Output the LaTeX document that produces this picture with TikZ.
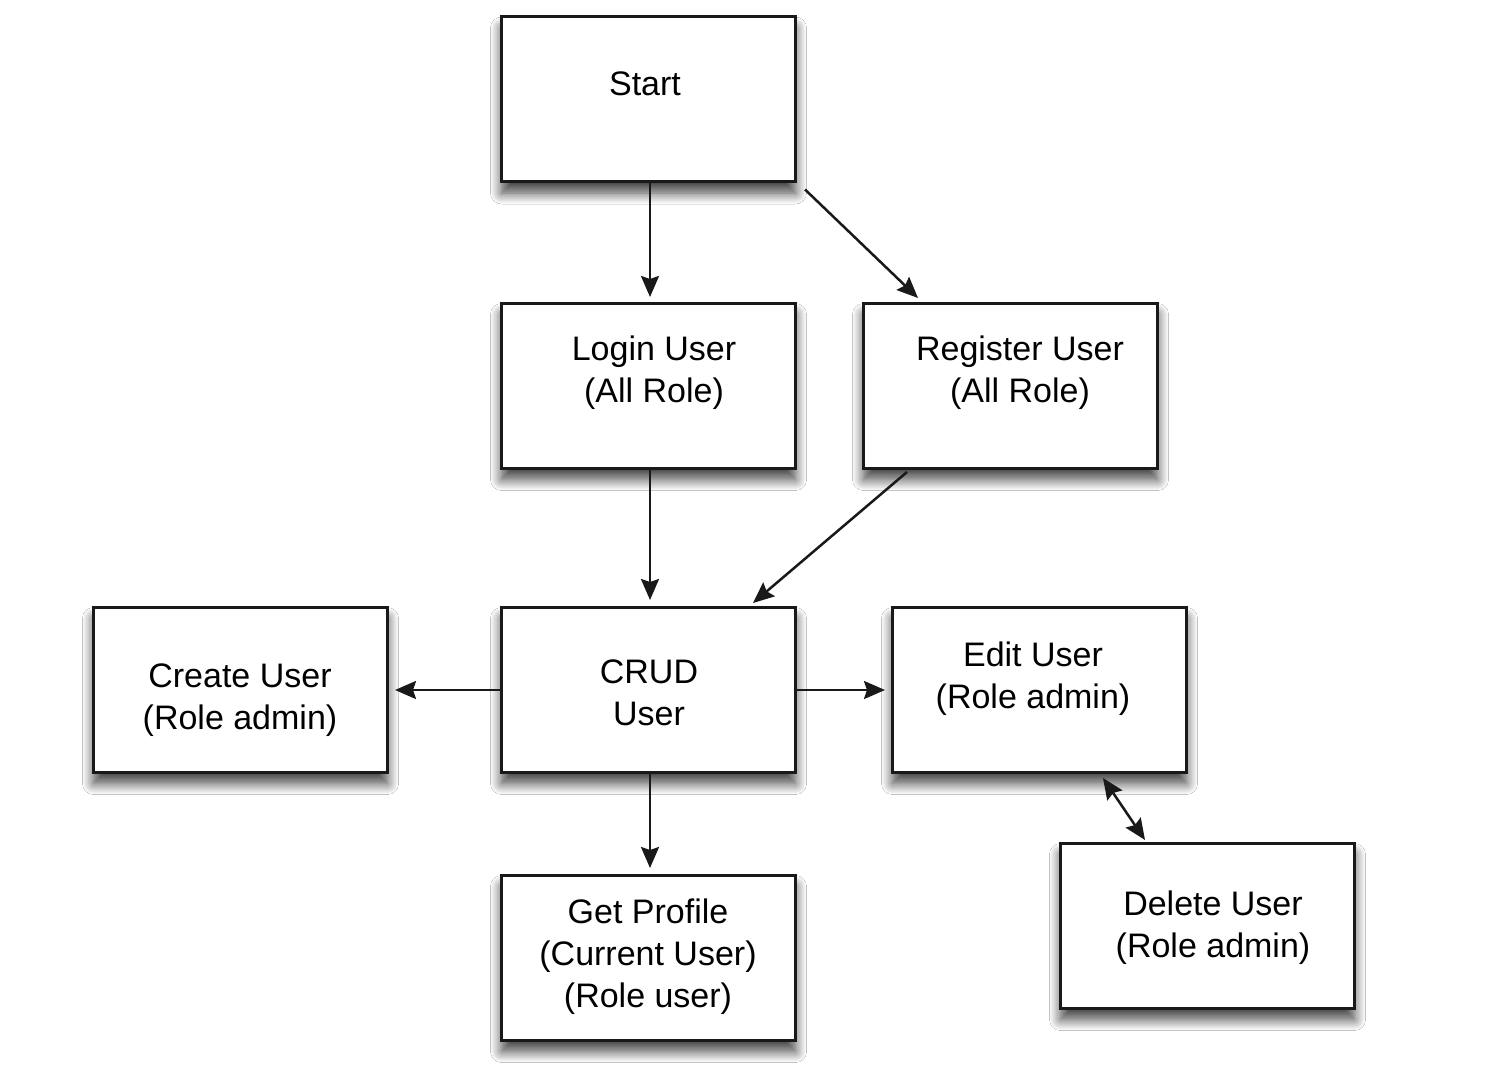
\documentclass[tikz,border=0pt]{standalone}
\usepackage{fontspec}
\setmainfont{Liberation Sans}
\usetikzlibrary{arrows.meta,calc,shadows.blur}
\tikzset{
  box/.style={draw=black!90, line width=3pt, fill=white, minimum width=294pt, minimum height=165pt, inner sep=0pt,
    blur shadow={shadow xshift=0pt, shadow yshift=-11pt, shadow blur radius=11pt, shadow blur steps=12, shadow opacity=75}},
  lbl/.style={align=center, font=\fontsize{34}{42}\selectfont, inner sep=0pt},
  tip/.tip={Stealth[length=21pt,width=18pt,inset=3pt]},
  conn/.style={line width=2.5pt, draw=black!90, -tip},
  conn2/.style={line width=2.5pt, draw=black!90, tip-tip}
}
\begin{document}
\begin{tikzpicture}[x=1pt,y=-1pt]
\useasboundingbox[fill=white] (0,0) rectangle (1496,1086);
% boxes
\node[box] (start) at (648.5,99.5) {};
\node[box] (login) at (648.5,386) {};
\node[box] (register) at (1010.5,386) {};
\node[box] (crud) at (648.5,690) {};
\node[box] (create) at (240.5,690) {};
\node[box] (edit) at (1039.5,690) {};
\node[box] (get) at (648.5,958) {};
\node[box] (delete) at (1207.5,926) {};
% labels
\node[lbl] (tstart) at (645,84) {Start};
\node[lbl] (tlogin) at (654,373) {Login User\\(All Role)};
\node[lbl] (tregister) at (1020,373) {Register User\\(All Role)};
\node[lbl] (tcrud) at (649,693) {CRUD\\User};
\node[lbl] (tcreate) at (240,700) {Create User\\(Role admin)};
\node[lbl] (tedit) at (1033,679) {Edit User\\(Role admin)};
\node[lbl] (tget) at (648,957) {Get Profile\\(Current User)\\(Role user)};
\node[lbl] (tdelete) at (1213,928) {Delete User\\(Role admin)};
% connectors
\draw[conn] ($(start.south)+(1.5,0)$) -- ($(login.north)+(1.5,-5)$);
\draw[conn] ($(start.south east)+(8,6)$) -- ($(register.north west)+(56,-4)$);
\draw[conn] ($(login.south)+(1.5,0)$) -- ($(crud.north)+(1.5,-6)$);
\draw[conn] ($(register.south west)+(45,2)$) -- ($(crud.north east)+(-44,-3)$);
\draw[conn] (crud.west) -- ($(create.east)+(6,0)$);
\draw[conn] (crud.east) -- ($(edit.west)+(-6,0)$);
\draw[conn] ($(crud.south)+(1.5,0)$) -- ($(get.north)+(1.5,-6)$);
\draw[conn2] ($(edit.south west)+(212,4)$) -- ($(delete.north west)+(86,-2)$);
\end{tikzpicture}
\end{document}
